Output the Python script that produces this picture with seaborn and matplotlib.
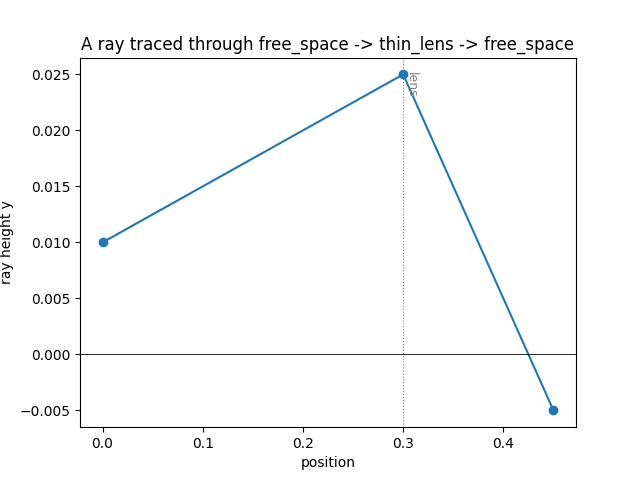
import matplotlib
matplotlib.use("Agg")
import matplotlib.pyplot as plt
import seaborn as sns

# ray positions along the axis and ray heights
position = [0.0, 0.3, 0.45]
height = [0.010, 0.025, -0.005]
lens_pos = 0.3

fig, ax = plt.subplots(figsize=(6.4, 4.8), dpi=100)

sns.lineplot(x=position, y=height, ax=ax, marker="o", sort=False,
             color="C0", markersize=6, markeredgecolor="C0",
             markeredgewidth=1, linewidth=1.5)

ax.axhline(0, color="black", linewidth=0.6)
ax.axvline(lens_pos, color="gray", linestyle=":", linewidth=0.8)
ytop = ax.get_ylim()[1]
ax.text(lens_pos + 0.002, ytop * 0.95, "lens",
        rotation=270, color="gray", fontsize=9, ha="left", va="top")

ax.set_title("A ray traced through free_space -> thin_lens -> free_space")
ax.set_xlabel("position")
ax.set_ylabel("ray height y")

fig.savefig("out.png")
